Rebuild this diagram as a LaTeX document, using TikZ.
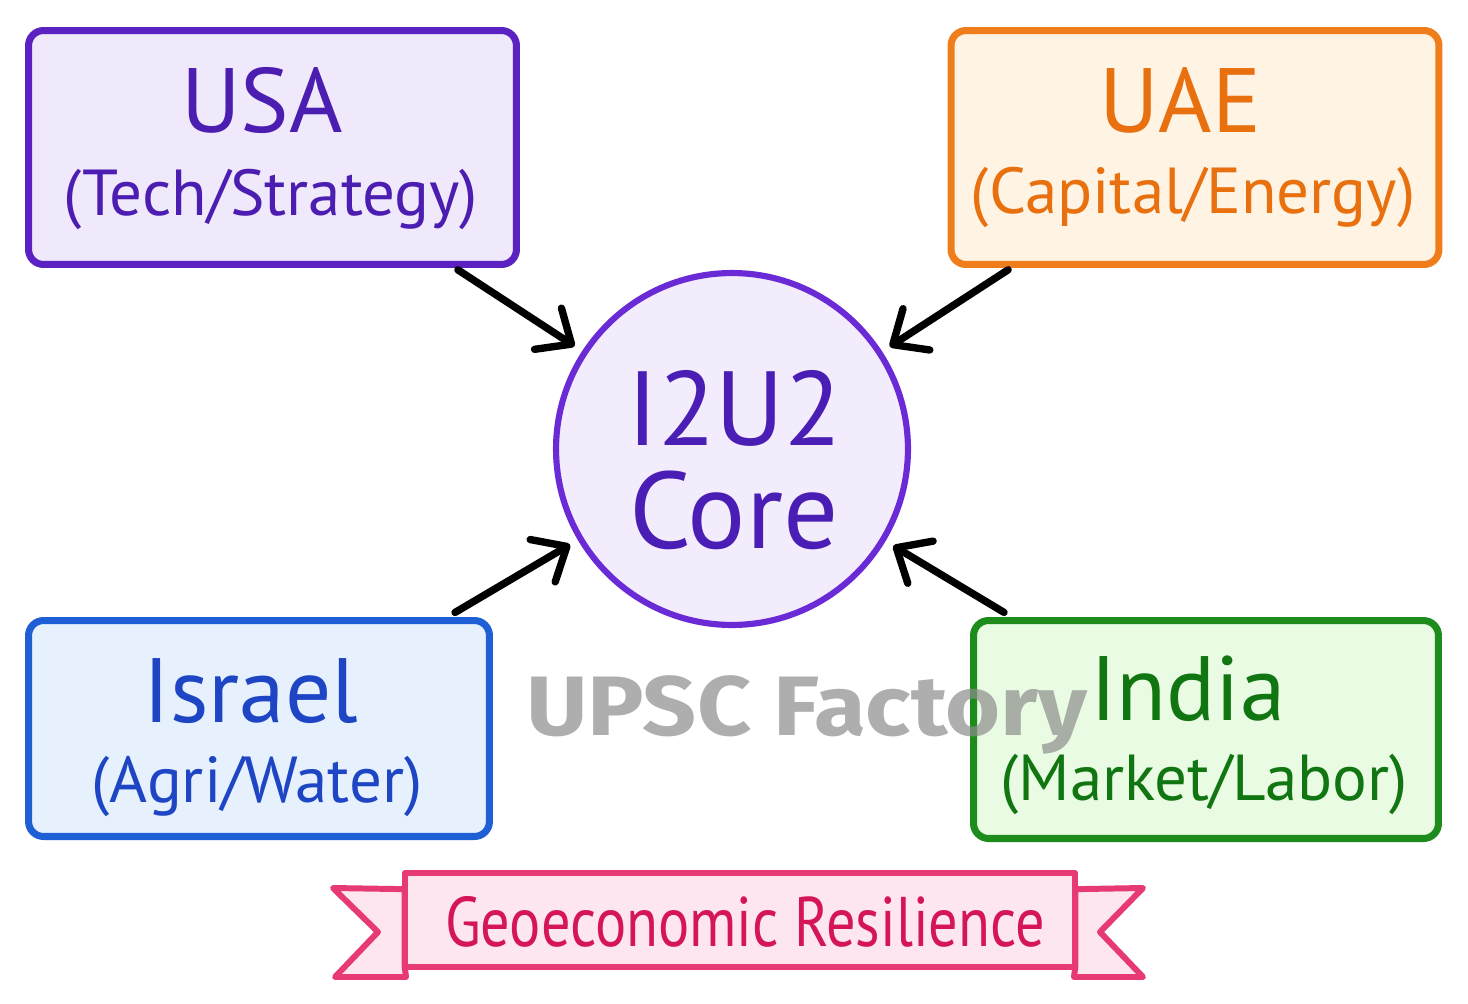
\documentclass[tikz,border=0pt]{standalone}
\usepackage{fontspec}
\setmainfont{PT Sans}
\newfontfamily\narrowfont[FakeStretch=0.83]{PT Sans}
\newfontfamily\wmfont[FakeStretch=1.12]{Fira Sans}
\usetikzlibrary{arrows.meta}
\definecolor{usaB}{HTML}{5B21C2}\definecolor{usaF}{HTML}{EFE9FB}\definecolor{usaT}{HTML}{4B1DB0}
\definecolor{uaeB}{HTML}{F07D1C}\definecolor{uaeF}{HTML}{FFF3E3}\definecolor{uaeT}{HTML}{E8700F}
\definecolor{isrB}{HTML}{1F5FD6}\definecolor{isrF}{HTML}{E7F1FE}\definecolor{isrT}{HTML}{1E46C4}
\definecolor{indB}{HTML}{1D8C1D}\definecolor{indF}{HTML}{EAFBE3}\definecolor{indT}{HTML}{117511}
\definecolor{coreB}{HTML}{6A2BD6}\definecolor{coreF}{HTML}{F2ECFC}\definecolor{coreT}{HTML}{4A1DB4}
\definecolor{banB}{HTML}{E73A74}\definecolor{banF}{HTML}{FDE6EF}\definecolor{banT}{HTML}{D5155A}
\definecolor{wmC}{HTML}{8C8C8C}
\begin{document}
\begin{tikzpicture}[x=0.02cm,y=-0.02cm,
  box/.style={draw, rounded corners=0.3cm, line width=4pt, inner sep=0pt},
  big/.style={anchor=base, font=\fontsize{52}{52}\selectfont},
  small/.style={anchor=base, font=\fontsize{37}{37}\selectfont},
  arr/.style={line width=4.2pt, line cap=round, line join=round,
    -{Straight Barb[length=16pt,width=28pt,line cap=round,line join=round]}, shorten >=0.18cm, shorten <=0.14cm},
  banline/.style={draw=banB, fill=banF, line width=3.4pt, line join=round}]
\useasboundingbox (0,0) rectangle (1468,1004);
\fill[white] (0,0) rectangle (1468,1004);
% boxes
\node[box, draw=usaB, fill=usaF, minimum width=9.76cm, minimum height=4.68cm] (usa) at (272.5,147.5) {};
\node[box, draw=uaeB, fill=uaeF, minimum width=9.76cm, minimum height=4.68cm] (uae) at (1195,147.5) {};
\node[box, draw=isrB, fill=isrF, minimum width=9.22cm, minimum height=4.32cm] (isr) at (259,728.5) {};
\node[box, draw=indB, fill=indF, minimum width=9.3cm, minimum height=4.36cm] (ind) at (1206,729.5) {};
\node[circle, draw=coreB, fill=coreF, line width=3.5pt, minimum size=7.04cm, inner sep=0pt] (core) at (732,449) {};
% texts
\node[big, text=usaT] (usa1) at (262,132) {USA};
\node[small, text=usaT] (usa2) at (271,215) {(Tech/Strategy)};
\node[big, text=uaeT] (uae1) at (1180,132) {UAE};
\node[small, text=uaeT] (uae2) at (1193,213) {(Capital/Energy)};
\node[big, text=isrT] (isr1) at (251,722) {Israel};
\node[small, text=isrT] (isr2) at (257,802) {(Agri/Water)};
\node[big, text=indT] (ind1) at (1188,720) {India};
\node[small, text=indT] (ind2) at (1204,800) {(Market/Labor)};
\node[anchor=base, text=coreT, font=\fontsize{60}{60}\selectfont] (core1) at (735,445) {I2U2};
\node[anchor=base, text=coreT, font=\fontsize{62}{62}\selectfont] (core2) at (734,548) {Core};
% arrows
\coordinate (aU) at (452,266);
\coordinate (aE) at (1014,266);
\coordinate (aI) at (449,616);
\coordinate (aN) at (1010,616);
\draw[arr] (aU) -- (core);
\draw[arr] (aE) -- (core);
\draw[arr] (aI) -- (core);
\draw[arr] (aN) -- (core);
% banner
\path node[minimum width=13.4cm, minimum height=1.86cm, inner sep=0pt] (ban) at (740,920) {};
\draw[banline] ([yshift=-0.32cm]ban.north west) -- (333,888) -- (378,932) -- (335,977) -- (406,977) -- (ban.south west) -- cycle;
\draw[banline] ([yshift=-0.32cm]ban.north east) -- (1143,888) -- (1100,932) -- (1143,977) -- (1074,977) -- (ban.south east) -- cycle;
\draw[banline] (ban.north west) rectangle (ban.south east);
\node[anchor=base, text=banT, font=\narrowfont\fontsize{40}{40}\selectfont] (bant) at (745,946) {Geoeconomic Resilience};
% watermark
\node[anchor=base, text=wmC, opacity=0.7, font=\wmfont\bfseries\fontsize{48}{48}\selectfont] (wm) at (807,735) {UPSC Factory};
\end{tikzpicture}
\end{document}
